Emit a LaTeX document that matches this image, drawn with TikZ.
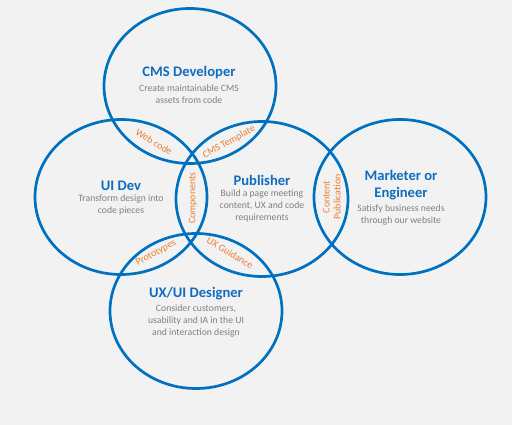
\documentclass[tikz,border=0pt]{standalone}
\usepackage{fontspec}
\setmainfont{Carlito}
\definecolor{ringblue}{RGB}{0,112,192}
\definecolor{titleblue}{RGB}{16,108,190}
\definecolor{descgray}{RGB}{128,128,128}
\definecolor{lblorange}{RGB}{237,125,49}
\definecolor{bggray}{RGB}{242,242,242}
\tikzset{
  ring/.style={draw=ringblue, line width=2.7pt},
  ttl/.style={text=titleblue, font=\fontsize{14.6}{17.5}\selectfont\bfseries, align=center, inner sep=0pt},
  desc/.style={text=descgray, font=\fontsize{9.7}{12}\selectfont, align=center, inner sep=0pt},
  lbl/.style={text=lblorange, font=\fontsize{10}{11}\selectfont, align=center, inner sep=0pt}
}
\begin{document}
\begin{tikzpicture}[x=1pt,y=-1pt]
\fill[bggray] (0,0) rectangle (512,425);
\useasboundingbox (0,0) rectangle (512,425);
% rings
\draw[ring] (190,86) ellipse [x radius=86, y radius=77.5];
\draw[ring] (121,197) ellipse [x radius=86, y radius=77.5];
\draw[ring] (262,199) ellipse [x radius=86, y radius=77.5];
\draw[ring] (400,197) ellipse [x radius=86, y radius=77.5];
\draw[ring] (196,311) ellipse [x radius=86, y radius=77.5];
% titles and descriptions
\node[ttl] (cmsT) at (189,73) {CMS Developer};
\node[desc] (cmsD) at (189,94) {Create maintainable CMS\\assets from code};
\node[ttl] (uidevT) at (121,186) {UI Dev};
\node[desc] (uidevD) at (121,205) {Transform design into\\code pieces};
\node[ttl] (pubT) at (262,180) {Publisher};
\node[desc] (pubD) at (262,206) {Build a page meeting\\content, UX and code\\requirements};
\node[ttl] (mktT) at (401,185) {Marketer or\\Engineer};
\node[desc] (mktD) at (401,215) {Satisfy business needs\\through our website};
\node[ttl] (uxT) at (196,294) {UX/UI Designer};
\node[desc] (uxD) at (196,321) {Consider customers,\\usability and IA in the UI\\and interaction design};
% overlap labels
\node[lbl, rotate=-31] (web) at (154,142) {Web code};
\node[lbl, rotate=29] (tpl) at (229,142) {CMS Template};
\node[lbl, rotate=90] (comp) at (193,198) {Components};
\node[lbl, rotate=90] (cont) at (332,197) {Content\\Publication};
\node[lbl, rotate=29] (proto) at (156,253) {Prototypes};
\node[lbl, rotate=-31] (uxg) at (230,253) {UX Guidance};
\end{tikzpicture}
\end{document}
